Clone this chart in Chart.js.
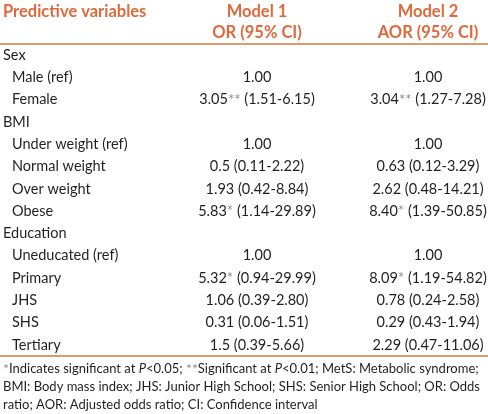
<!DOCTYPE html>
<html>
<head>
<meta charset="utf-8">
<script src="https://cdn.jsdelivr.net/npm/chart.js@4/dist/chart.umd.min.js"></script>
<style>
  html, body { margin: 0; padding: 0; background: #fff; }
</style>
</head>
<body>
<canvas id="tbl" width="488" height="414"></canvas>
<script>
const columns = ['Model 1', 'Model 2'];
const columnSub = ['OR (95% CI)', 'AOR (95% CI)'];
const headerLabel = 'Predictive variables';

const rowLabels = ['Sex', 'Male (ref)', 'Female', 'BMI', 'Under weight (ref)', 'Normal weight',
  'Over weight', 'Obese', 'Education', 'Uneducated (ref)', 'Primary', 'JHS', 'SHS', 'Tertiary'];
const rowLevel = [0, 1, 1, 0, 1, 1, 1, 1, 0, 1, 1, 1, 1, 1];

const model1 = ['', '1.00', '3.05** (1.51-6.15)', '', '1.00', '0.5 (0.11-2.22)', '1.93 (0.42-8.84)',
  '5.83* (1.14-29.89)', '', '1.00', '5.32* (0.94-29.99)', '1.06 (0.39-2.80)', '0.31 (0.06-1.51)', '1.5 (0.39-5.66)'];
const model2 = ['', '1.00', '3.04** (1.27-7.28)', '', '1.00', '0.63 (0.12-3.29)', '2.62 (0.48-14.21)',
  '8.40* (1.39-50.85)', '', '1.00', '8.09* (1.19-54.82)', '0.78 (0.24-2.58)', '0.29 (0.43-1.94)', '2.29 (0.47-11.06)'];

// footnote lines, split in [text, style] pieces (s = star, i = italic)
const footnotes = [
  [['*', 's'], ['Indicates significant at ', ''], ['P', 'i'], ['<0.05; ', ''], ['**', 's'], ['Significant at ', ''], ['P', 'i'], ['<0.01; MetS: Metabolic syndrome;', '']],
  [['BMI: Body mass index; JHS: Junior High School; SHS: Senior High School; OR: Odds', '']],
  [['ratio; AOR: Adjusted odds ratio; CI: Confidence interval', '']]
];

const FAMILY = 'Lato, "Open Sans", sans-serif';
const TEXT = '#231f20';
const ORANGE = '#e0693c';
const RULE = '#d4773f';
const STAR = '#8c8c8c';
const BODY = `14.5px ${FAMILY}`;
const STARFONT = `15px ${FAMILY}`;

function toPoints(values, col) {
  const pts = [];
  values.forEach((v, i) => {
    if (v) pts.push({ x: col, y: rowLabels[i], v });
  });
  return pts;
}

function drawCell(ctx, text, cx, cy) {
  const m = text.match(/^([\d.]+)(\**)(.*)$/);
  const num = m[1], stars = m[2], rest = m[3];
  ctx.font = BODY;
  const wNum = ctx.measureText(num).width;
  const wRest = ctx.measureText(rest).width;
  ctx.font = STARFONT;
  const wStar = stars ? ctx.measureText(stars).width : 0;
  let x = cx - (wNum + wStar + wRest) / 2;
  ctx.textAlign = 'left';
  ctx.font = BODY;
  ctx.fillStyle = TEXT;
  ctx.fillText(num, x, cy);
  x += wNum;
  if (stars) {
    ctx.font = STARFONT;
    ctx.fillStyle = STAR;
    ctx.fillText(stars, x, cy);
    x += wStar;
  }
  ctx.font = BODY;
  ctx.fillStyle = TEXT;
  ctx.fillText(rest, x, cy);
}

const tablePlugin = {
  id: 'tablePlugin',
  afterDatasetsDraw(chart) {
    const { ctx, chartArea, scales } = chart;
    const yS = scales.y, xS = scales.x;
    ctx.save();
    ctx.textBaseline = 'middle';

    // header
    ctx.fillStyle = ORANGE;
    ctx.font = `bold 16.5px ${FAMILY}`;
    ctx.textAlign = 'left';
    ctx.fillText(headerLabel, 3, chartArea.top - 32);
    ctx.textAlign = 'center';
    columns.forEach((c, i) => {
      const px = xS.getPixelForValue(i);
      ctx.fillText(c, px, chartArea.top - 32);
      ctx.fillText(columnSub[i], px, chartArea.top - 11);
    });

    // rules
    ctx.strokeStyle = RULE;
    ctx.lineWidth = 1.5;
    [chartArea.top, chartArea.bottom].forEach(y => {
      ctx.beginPath();
      ctx.moveTo(0, y);
      ctx.lineTo(chart.width, y);
      ctx.stroke();
    });

    // row labels
    ctx.fillStyle = TEXT;
    ctx.font = BODY;
    ctx.textAlign = 'left';
    rowLabels.forEach((r, i) => {
      ctx.fillText(r, 3 + rowLevel[i] * 9, yS.getPixelForValue(i));
    });

    // cells
    chart.data.datasets.forEach((ds, di) => {
      const meta = chart.getDatasetMeta(di);
      meta.data.forEach((pt, i) => drawCell(ctx, ds.data[i].v, pt.x, pt.y));
    });

    // footnote
    footnotes.forEach((line, li) => {
      let x = 3;
      const y = chartArea.bottom + 13 + li * 18;
      line.forEach(([t, st]) => {
        ctx.font = (st === 'i' ? 'italic ' : '') + (st === 's' ? '14px ' : '13px ') + FAMILY;
        ctx.fillStyle = st === 's' ? STAR : TEXT;
        ctx.fillText(t, x, y);
        x += ctx.measureText(t).width;
      });
    });
    ctx.restore();
  }
};

new Chart(document.getElementById('tbl'), {
  type: 'line',
  data: {
    datasets: [
      { label: columns[0], data: toPoints(model1, columns[0]), showLine: false, pointRadius: 0 },
      { label: columns[1], data: toPoints(model2, columns[1]), showLine: false, pointRadius: 0 }
    ]
  },
  options: {
    responsive: false,
    animation: false,
    devicePixelRatio: 1,
    layout: { padding: { left: 257, right: 60, top: 44, bottom: 58 } },
    scales: {
      x: { type: 'category', labels: columns, offset: false, display: false },
      y: { type: 'category', labels: rowLabels, offset: true, display: false }
    },
    plugins: { legend: { display: false }, tooltip: { enabled: false } }
  },
  plugins: [tablePlugin]
});
</script>
</body>
</html>
